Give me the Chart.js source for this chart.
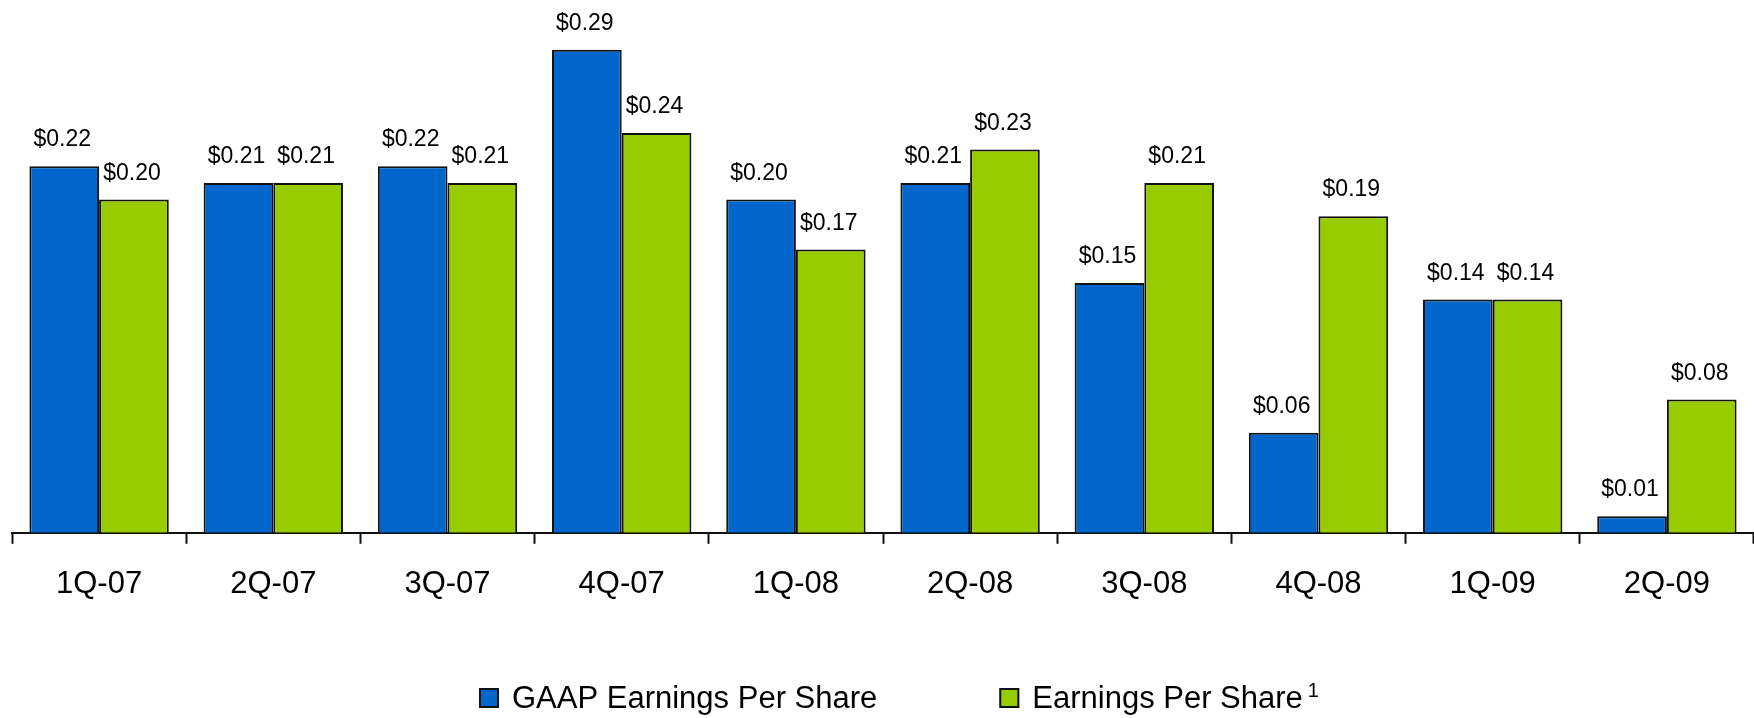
<!DOCTYPE html>
<html>
<head>
<meta charset="utf-8">
<title>Earnings Per Share</title>
<script src="https://cdn.jsdelivr.net/npm/chart.js@4/dist/chart.umd.min.js"></script>
<style>
  html, body { margin: 0; padding: 0; background: #fff; }
  #wrap { width: 1754px; height: 718px; position: relative; }
</style>
</head>
<body>
<div id="wrap"><canvas id="eps"></canvas></div>
<script>
'use strict';

// ── Data ──────────────────────────────────────────────────────────────────────
var quarters = ['1Q-07', '2Q-07', '3Q-07', '4Q-07', '1Q-08', '2Q-08', '3Q-08', '4Q-08', '1Q-09', '2Q-09'];
var gaapEps  = [0.22, 0.21, 0.22, 0.29, 0.20, 0.21, 0.15, 0.06, 0.14, 0.01];
var adjEps   = [0.20, 0.21, 0.21, 0.24, 0.17, 0.23, 0.21, 0.19, 0.14, 0.08];
var seriesNames = ['GAAP Earnings Per Share', 'Earnings Per Share'];
var footnote = '1';

var BLUE  = 'rgb(0,102,204)';
var GREEN = 'rgb(153,204,0)';
var FONT  = '"Liberation Sans", Arial, Helvetica, sans-serif';

// ── Value labels above each bar ───────────────────────────────────────────────
var valueLabels = {
  id: 'valueLabels',
  afterDatasetsDraw: function (chart) {
    var ctx = chart.ctx;
    ctx.save();
    ctx.font = '23px ' + FONT;
    ctx.fillStyle = '#000';
    ctx.textAlign = 'center';
    ctx.textBaseline = 'alphabetic';
    chart.data.datasets.forEach(function (ds, i) {
      chart.getDatasetMeta(i).data.forEach(function (bar, j) {
        ctx.fillText('$' + ds.data[j].toFixed(2), bar.x - 2, bar.y - 20);
      });
    });
    ctx.restore();
  }
};

// ── Bottom legend (with footnote marker on the second entry) ─────────────────
var epsLegend = {
  id: 'epsLegend',
  afterDraw: function (chart, args, opts) {
    var ctx = chart.ctx;
    var x = opts.left;
    var mid = opts.middle;
    ctx.save();
    ctx.textBaseline = 'middle';
    ctx.textAlign = 'left';
    chart.data.datasets.forEach(function (ds, i) {
      ctx.fillStyle = ds.backgroundColor;
      ctx.fillRect(x, mid - 10, 20, 20);
      ctx.lineWidth = 2;
      ctx.strokeStyle = '#111';
      ctx.strokeRect(x + 1, mid - 9, 18, 18);
      ctx.fillStyle = '#000';
      ctx.font = '31px ' + FONT;
      ctx.fillText(ds.label, x + 33, mid + 1);
      var w = ctx.measureText(ds.label).width;
      if (i === 1) {
        ctx.font = '20px ' + FONT;
        ctx.fillText(footnote, x + 33 + w + 5, mid - 7);
      }
      x += 33 + w + opts.spacing;
    });
    ctx.restore();
  }
};

new Chart(document.getElementById('eps').getContext('2d'), {
  type: 'bar',
  data: {
    labels: quarters,
    datasets: [{
      label: seriesNames[0],
      data: gaapEps,
      backgroundColor: BLUE,
      borderColor: '#111',
      borderWidth: 2,
      borderSkipped: 'bottom'
    }, {
      label: seriesNames[1],
      data: adjEps,
      backgroundColor: GREEN,
      borderColor: '#111',
      borderWidth: 2,
      borderSkipped: 'bottom'
    }]
  },
  options: {
    responsive: true,
    maintainAspectRatio: false,
    animation: false,
    layout: { padding: { left: 12, right: 0, top: 33, bottom: 93 } },
    datasets: { bar: { categoryPercentage: 0.8, barPercentage: 1.0 } },
    plugins: {
      legend: { display: false },
      tooltip: { enabled: false },
      epsLegend: { left: 479, middle: 698, spacing: 122 }
    },
    scales: {
      x: {
        offset: true,
        grid: {
          offset: true,
          drawOnChartArea: false,
          drawTicks: true,
          tickLength: 11,
          tickWidth: 2,
          tickColor: '#111'
        },
        border: { display: true, color: '#111', width: 2 },
        ticks: {
          color: '#000',
          padding: 22,
          font: { family: FONT, size: 31 }
        }
      },
      y: {
        display: false,
        min: 0,
        max: 0.30
      }
    }
  },
  plugins: [valueLabels, epsLegend]
});
</script>
</body>
</html>
